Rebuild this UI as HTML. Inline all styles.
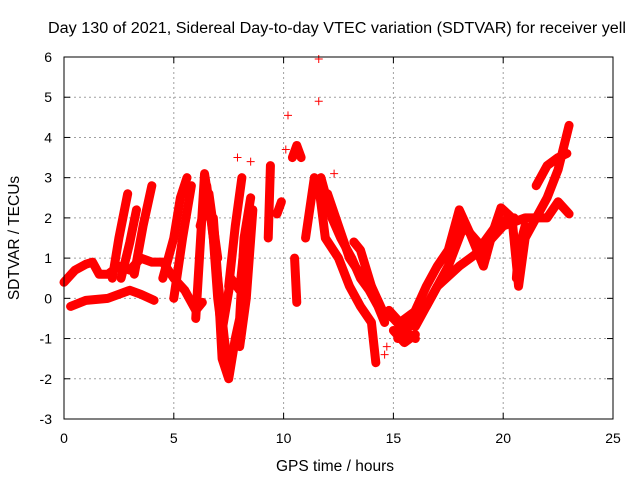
<!DOCTYPE html>
<html><head><meta charset="utf-8"><style>
body{margin:0;background:#fff;font-family:"Liberation Sans",sans-serif}
svg text{font-family:"Liberation Sans",sans-serif;font-size:14px;fill:#000}
svg text.big{font-size:15.5px}
</style></head><body>
<svg id="chart" width="640" height="480">
<text class="big" x="48" y="33" textLength="578" lengthAdjust="spacingAndGlyphs">Day 130 of 2021, Sidereal Day-to-day VTEC variation (SDTVAR) for receiver yell</text>
<g id="grid"></g><g id="marks"></g><g id="axes"></g>
<text class="big" x="335" y="471" text-anchor="middle">GPS time / hours</text>
<text class="big" transform="translate(19,238) rotate(-90)" text-anchor="middle">SDTVAR / TECUs</text>
</svg>
<script>
const xTicks=[0,5,10,15,20,25];
const yTicks=[-3,-2,-1,0,1,2,3,4,5,6];
// tracks: hours and values
const trackHours=[
[0.3,1,2,3,3.5,4.1],
[0,0.5,1,1.3,1.6,2,2.5,3,3.5,4,4.5,5,5.5,6,6.3],
[2.2,2.5,2.9],
[2.6,3,3.3],
[3.2,3.6,4],
[4.5,5,5.3,5.6],
[5,5.4,5.8],
[6,6.4,6.7,7,7.3,7.5],
[6.8,7,7.2,7.5,7.8,8,8.2,8.5],
[7.5,7.8,8.1],
[9.3,9.35,9.4],
[9.7,9.9],
[10.4,10.6,10.8],
[10.5,10.6],
[11,11.4,11.6,11.9,12.5,13,13.5,14,14.2],
[11.7,12.2,12.6,13.1,13.5,13.9,14.3,14.6],
[13.2,13.5,14,14.5,15,15.5,16],
[15.2,15.6,16,16.5,17,17.5,18,18.5,19.1,19.5,19.9,20.4,20.7,21,21.5,22,22.5,23],
[15.5,16,17,18,19,20,21,21.5,22,22.5,23],
[20.6,20.7,21],
[6.5,6.8,7.0,7.3],
[7.2,7.6,8,8.3],
[8.0,8.3,8.6],
[6.2,6.6,7],
[14.8,15.3,15.8,16.3],
[15,15.5,16],
[12,12.5,13,13.5,14],
[16.5,17.5,18.2,19,19.8,20.5],
[21.5,22,22.5,22.9]
];
const trackValues=[
[-0.2,-0.05,0,0.2,0.1,-0.05],
[0.4,0.7,0.85,0.9,0.6,0.6,0.8,0.7,1.0,0.9,0.9,0.5,0.2,-0.3,-0.1],
[0.5,1.5,2.6],
[0.5,1.4,2.2],
[0.6,1.8,2.8],
[0.5,1.5,2.5,3.0],
[0,1.5,2.8],
[-0.5,3.1,2.0,0.5,-1.0,-1.8],
[2.0,0.5,-1.5,-2.0,-1.0,-0.5,1.5,2.5],
[0.3,1.8,3.0],
[1.5,2.4,3.3],
[2.1,2.4],
[3.5,3.8,3.5],
[1.0,-0.1],
[1.5,3.0,2.8,1.5,1.0,0.3,-0.2,-0.6,-1.6],
[3.0,2.0,1.5,1.0,0.5,0.2,-0.2,-0.6],
[1.4,1.2,0.3,-0.3,-0.5,-0.8,-1.0],
[-1.0,-0.8,-0.3,0.3,0.8,1.2,2.2,1.6,0.8,1.6,2.25,2.0,0.3,1.5,2.0,2.5,3.2,4.3],
[-0.6,-0.7,0.3,0.8,1.2,1.8,2.0,2.0,2.0,2.4,2.1],
[0.5,1.2,1.8],
[2.8,1.5,0,-1.3],
[-0.8,0.5,0.2,1.8],
[-1.2,0,2.2],
[1.8,2.6,1.0],
[-0.3,-0.6,-0.4,-0.2],
[-0.8,-1.1,-0.9],
[2.6,1.8,1.0,0.6,0.3],
[-0.2,0.8,1.8,1.3,1.9,2.0],
[2.8,3.3,3.5,3.6]
];
const scatterHours=[10.2,11.6,11.6,10.1,9.4,8.5,12.3,7.9,14.6,14.7];
const scatterValues=[4.55,5.95,4.9,3.7,3.0,3.4,3.1,3.5,-1.4,-1.2];
const X0=64,X1=613,Y0=57,Y1=419;
const sx=h=>X0+(h-0)/25*(X1-X0);
const sy=v=>Y1-(v+3)/9*(Y1-Y0);
const NS="http://www.w3.org/2000/svg";
function mk(t,a,p){const e=document.createElementNS(NS,t);for(const k in a)e.setAttribute(k,a[k]);p.appendChild(e);return e;}
const grid=document.getElementById('grid'),marks=document.getElementById('marks'),axes=document.getElementById('axes');
xTicks.forEach(t=>{
 if(t>0&&t<25){const g=mk('line',{x1:sx(t),x2:sx(t),y1:Y0,y2:Y1,stroke:'#a0a0a0','stroke-dasharray':'2,3'},grid);
 
 }
 const l=mk('line',{x1:sx(t),x2:sx(t),y1:Y1,y2:Y1-6,stroke:'#000'},axes);
 
 
 const l2=mk('line',{x1:sx(t),x2:sx(t),y1:Y0,y2:Y0+6,stroke:'#000'},axes);
 
 
 const tx=mk('text',{x:sx(t),y:Y1+24,'text-anchor':'middle'},axes);tx.textContent=t;
 
 
});
yTicks.forEach(t=>{
 if(t>-3&&t<6){const g=mk('line',{x1:X0,x2:X1,y1:sy(t),y2:sy(t),stroke:'#a0a0a0','stroke-dasharray':'2,3'},grid);
 
 }
 const l=mk('line',{x1:X0,x2:X0+6,y1:sy(t),y2:sy(t),stroke:'#000'},axes);
 
 
 const l2=mk('line',{x1:X1,x2:X1-6,y1:sy(t),y2:sy(t),stroke:'#000'},axes);
 
 
 const tx=mk('text',{x:X0-12,y:sy(t)+5,'text-anchor':'end'},axes);tx.textContent=t;
 
 
});
const fr=mk('rect',{x:X0,y:Y0,width:X1-X0,height:Y1-Y0,fill:'none',stroke:'#000'},axes);


function plus(h,v,c){const x=sx(h),y=sy(v);
 const p=mk('path',{d:`M${x-4},${y}H${x+4}M${x},${y-4}V${y+4}`,stroke:c,'stroke-width':1},marks);
 
 }
trackHours.forEach((hs,i)=>{
 const vs=trackValues[i];
 const pl=mk('polyline',{points:hs.map((h,j)=>sx(h)+','+sy(vs[j])).join(' '),fill:'none',stroke:'#f00','stroke-width':9,'stroke-linejoin':'round','stroke-linecap':'round'},marks);
 
 
 hs.forEach((h,j)=>plus(h,vs[j],'#f00'));
});
scatterHours.forEach((h,i)=>plus(h,scatterValues[i],'#f00'));
</script>
</body></html>
